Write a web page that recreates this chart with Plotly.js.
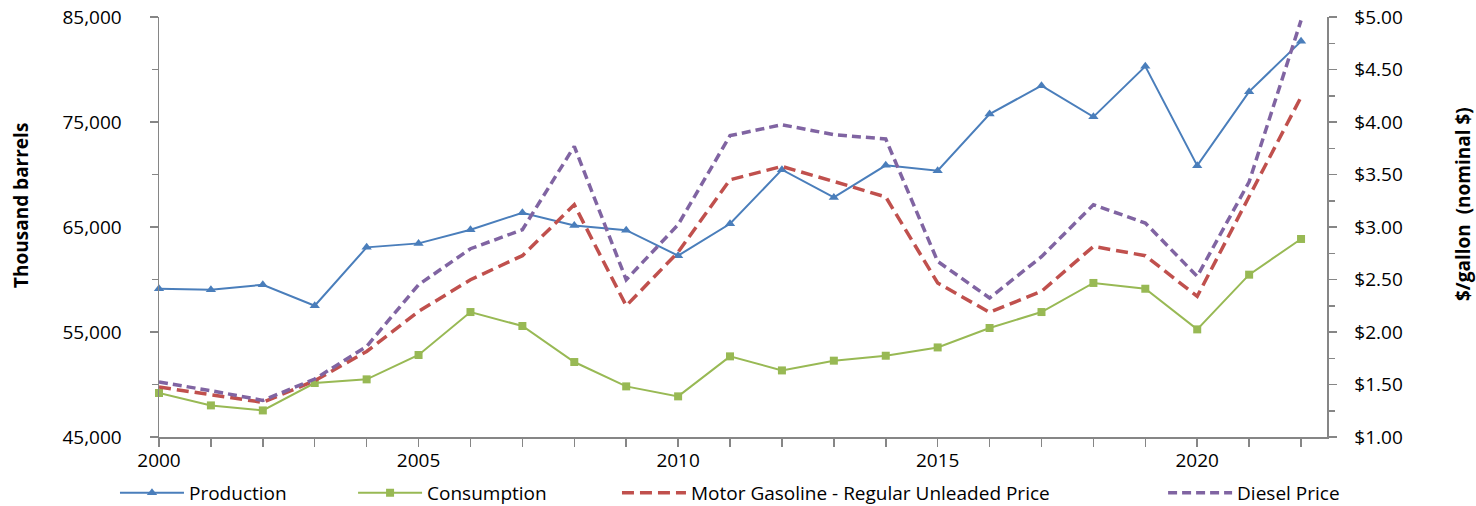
<!DOCTYPE html>
<html>
<head>
<meta charset="utf-8">
<script src="https://cdn.plot.ly/plotly-3.0.1.min.js"></script>
<style>
html,body{margin:0;padding:0;background:#fff;}
#chart{width:1476px;height:506px;}
</style>
</head>
<body>
<div id="chart"></div>
<script>
const years = [2000,2001,2002,2003,2004,2005,2006,2007,2008,2009,2010,2011,2012,2013,2014,2015,2016,2017,2018,2019,2020,2021,2022];
const production = [59120,59030,59500,57500,63060,63440,64740,66360,65150,64700,62270,65310,70460,67820,70870,70360,75760,78460,75490,80300,70840,77890,82680];
const consumption = [49190,48010,47530,50140,50490,52810,56900,55570,52140,49820,48870,52680,51340,52270,52740,53530,55380,56900,59670,59120,55250,60460,63860];
const gasolinePrice = [1.476,1.403,1.330,1.536,1.815,2.196,2.498,2.727,3.212,2.250,2.760,3.450,3.577,3.434,3.286,2.467,2.187,2.387,2.815,2.727,2.339,3.290,4.238];
const dieselPrice = [1.524,1.441,1.349,1.552,1.863,2.450,2.793,2.974,3.768,2.498,3.022,3.870,3.974,3.879,3.838,2.672,2.324,2.717,3.212,3.038,2.530,3.430,4.968];
const seriesNames = ["Production","Consumption","Motor Gasoline - Regular Unleaded Price","Diesel Price"];
const leftTitle = "Thousand barrels";
const rightTitle = "$/gallon\u00a0 (nominal $)";

const FONT = "'Open Sans', 'Noto Sans', sans-serif";

const traces = [
  {x: years, y: production, name: seriesNames[0], type: 'scatter', mode: 'lines+markers',
   line: {color: '#4A7EBB', width: 2}, marker: {symbol: 'triangle-up', size: 9, color: '#4A7EBB'},
   cliponaxis: false, legend: 'legend'},
  {x: years, y: consumption, name: seriesNames[1], type: 'scatter', mode: 'lines+markers',
   line: {color: '#98B954', width: 2}, marker: {symbol: 'square', size: 8, color: '#98B954'},
   cliponaxis: false, legend: 'legend2'},
  {x: years, y: gasolinePrice, name: seriesNames[2], type: 'scatter', mode: 'lines', yaxis: 'y2',
   line: {color: '#C0504D', width: 3.5, dash: '12px,6px'}, cliponaxis: false, legend: 'legend3'},
  {x: years, y: dieselPrice, name: seriesNames[3], type: 'scatter', mode: 'lines', yaxis: 'y2',
   line: {color: '#8064A2', width: 3.5, dash: '9px,5px'}, cliponaxis: false, legend: 'legend4'}
];

const legendBase = {orientation: 'h', xref: 'container', yref: 'container', yanchor: 'middle', y: 0.026, xanchor: 'left',
  font: {family: FONT, size: 19, color: '#000'}, itemwidth: 64, bgcolor: 'rgba(0,0,0,0)'};

const axisLine = {showline: true, linecolor: '#868686', linewidth: 1.5, showgrid: false, zeroline: false,
  ticks: 'outside', ticklen: 8, tickcolor: '#868686', tickwidth: 1.5};

const layout = {
  width: 1476, height: 506,
  margin: {l: 159, r: 149, t: 17, b: 69, pad: 0, autoexpand: false},
  paper_bgcolor: '#fff', plot_bgcolor: '#fff',
  font: {family: FONT, size: 19, color: '#000'},
  xaxis: Object.assign({}, axisLine, {
    range: [2000, 2022.5], dtick: 5, tick0: 2000, tickformat: 'd',
    minor: {dtick: 1, ticks: 'outside', ticklen: 8, tickcolor: '#868686', tickwidth: 1.5},
    ticklabelstandoff: -2, automargin: false, tickfont: {family: FONT, size: 19}
  }),
  yaxis: Object.assign({}, axisLine, {
    range: [45000, 85000], tick0: 45000, dtick: 10000, tickformat: ',',
    minor: {dtick: 5000, ticks: 'outside', ticklen: 6, tickcolor: '#868686', tickwidth: 1.5},
    ticklabelstandoff: 24, automargin: false
  }),
  yaxis2: Object.assign({}, axisLine, {
    overlaying: 'y', side: 'right', range: [1, 5], dtick: 0.5, tickprefix: '$', tickformat: '.2f',
    minor: {dtick: 0.25, ticks: 'outside', ticklen: 6, tickcolor: '#868686', tickwidth: 1.5},
    ticklabelstandoff: 14, automargin: false
  }),
  annotations: [
    {text: '<b>' + leftTitle + '</b>', textangle: -90, showarrow: false,
     xref: 'paper', yref: 'paper', x: (21 - 159) / 1168, y: (437 - 206) / 420,
     xanchor: 'center', yanchor: 'middle', font: {family: FONT, size: 19, color: '#000'}},
    {text: '<b>' + rightTitle + '</b>', textangle: -90, showarrow: false,
     xref: 'paper', yref: 'paper', x: (1463 - 159) / 1168, y: (437 - 204) / 420,
     xanchor: 'center', yanchor: 'middle', font: {family: FONT, size: 19, color: '#000'}}
  ],
  showlegend: true,
  legend: Object.assign({}, legendBase, {x: 0.0779}),
  legend2: Object.assign({}, legendBase, {x: 0.2392}),
  legend3: Object.assign({}, legendBase, {x: 0.418}),
  legend4: Object.assign({}, legendBase, {x: 0.788})
};

Plotly.newPlot('chart', traces, layout, {displayModeBar: false, staticPlot: true});
</script>
</body>
</html>
